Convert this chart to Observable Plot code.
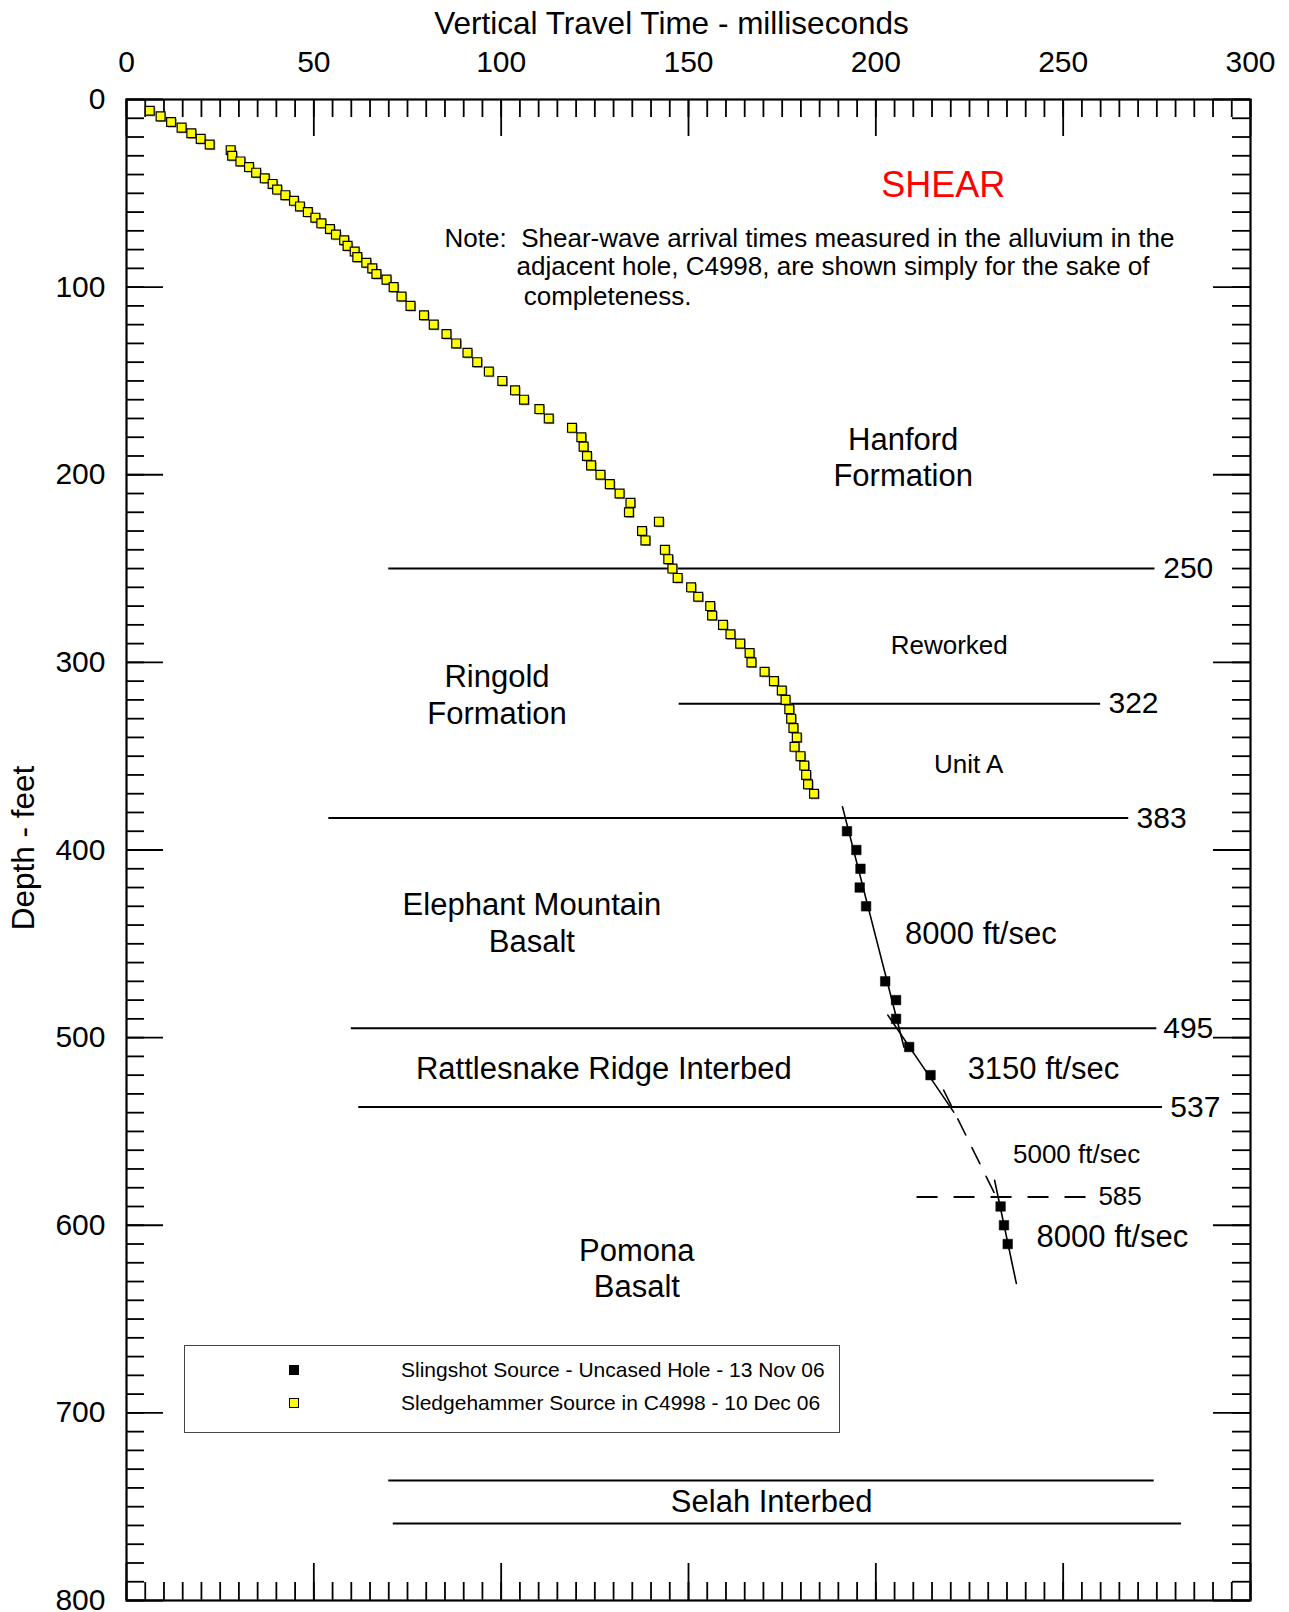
<!DOCTYPE html>
<html>
<head>
<meta charset="utf-8">
<script src="https://cdn.jsdelivr.net/npm/d3@7"></script>
<script src="https://cdn.jsdelivr.net/npm/@observablehq/plot@0.6"></script>
<style>
  body { margin: 0; background: #fff; font-family: "Liberation Sans", Arial, sans-serif; }
  #wrap { position: relative; width: 1289px; height: 1612px; }
  #legend { position: absolute; left: 184px; top: 1345px; width: 656px; height: 88px;
            border: 1px solid #444; background: #fff; box-sizing: border-box; font-size: 21px; color: #000; }
  #legend .row { position: absolute; left: 0; height: 24px; line-height: 24px; }
  #legend .mk { position: absolute; left: 104px; top: 7px; width: 10px; height: 10px; box-sizing: border-box; border: 1px solid #000; }
  #legend .lb { position: absolute; left: 216px; top: 0; white-space: nowrap; }
</style>
</head>
<body>
<div id="wrap"><div id="chart"></div>
  <div id="legend"></div>
</div>
<script>
// ---------------- data ----------------
// Sledgehammer source in C4998 (yellow): depth (ft) and travel time (ms)
const sledgeDepth = [6,9,12,15,18,21,24,27,30,33,36,39,42,45,48,51,54,57,60,63,66,69,72,75,78,81,84,87,90,93,96,
  100,105,110,115,120,125,130,135,140,145,150,155,160,165,170,175,180,185,190,195,200,205,210,215,220,225,230,235,
  240,245,250,255,260,265,270,275,280,285,290,295,300,305,310,315,320,325,330,335,340,345,350,355,360,365,370];
const sledgeTime = [6.2,9.1,11.9,14.7,17.3,19.8,22.2,27.8,28.2,30.4,32.7,34.6,36.9,39.0,40.2,42.4,44.7,46.3,48.4,50.4,52.0,54.3,55.9,58.1,59.0,60.9,61.6,64.0,65.6,66.7,69.4,
  71.3,73.4,75.8,79.4,82.0,85.4,88.0,91.0,93.6,96.7,100.3,103.7,106.1,110.2,112.7,118.9,121.4,122.0,122.9,124.0,126.5,129.0,131.6,134.5,134.1,142.1,137.6,138.5,
  143.7,144.6,145.7,147.1,150.7,152.6,155.8,156.3,159.2,161.2,163.8,166.3,166.8,170.3,172.8,174.9,175.9,176.9,177.4,178.0,178.9,178.3,179.9,180.9,181.4,181.9,183.5];

// Slingshot source, uncased hole (black)
const slingDepth = [390,400,410,420,430,470,480,490,505,520,590,600,610];
const slingTime  = [192.3,194.8,195.9,195.7,197.4,202.5,205.4,205.4,208.9,214.6,233.3,234.2,235.2];

// velocity fit segments (time ms, depth ft)
const fit8000a = {t: [191.1, 207.5], d: [377, 505]};
const fit3150  = {t: [203.2, 220.8], d: [488, 539.7]};
const fit5000  = {t: [218.1, 232.4], d: [528, 586]};
const fit8000b = {t: [231.7, 237.5], d: [576, 631]};

// formation boundaries (depth ft) and their extents in ms
const boundaryDepth = [250, 322, 383, 495, 537];
const boundaryFrom  = [70, 147.5, 54, 60, 62];
const boundaryTo    = [274.5, 260, 267.5, 275, 276.5];
const boundaryLabelAt = [276.7, 262.1, 269.6, 276.7, 278.6];
const dashedDepth = [585], dashedFrom = [211], dashedTo = [256.6], dashedLabelAt = [259.4];
const selahDepth = [736, 759], selahFrom = [70, 71.2], selahTo = [274.3, 281.6];

// tick labels
const xTickLabels = [0, 50, 100, 150, 200, 250, 300];
const yTickLabels = [0, 100, 200, 300, 400, 500, 600, 700, 800];

// annotation texts and their (time, depth) anchors
const bigCenterTexts = ["Hanford", "Formation", "Ringold", "Formation", "Elephant Mountain", "Basalt",
  "Rattlesnake Ridge Interbed", "Pomona", "Basalt", "Selah Interbed"];
const bigCenterT = [207.3, 207.3, 98.9, 98.9, 108.2, 108.2, 127.4, 136.2, 136.2, 172.2];
const bigCenterD = [181.7, 200.9, 307.7, 327.5, 429.4, 449.1, 516.5, 613.5, 632.7, 747.8];
const velTexts = ["8000 ft/sec", "3150 ft/sec", "8000 ft/sec"];
const velT = [207.8, 224.5, 242.9];
const velD = [444.7, 516.5, 606.4];
const midTexts = ["Reworked", "Unit A"];
const midT = [219.6, 224.8];
const midD = [291.3, 354.3];
const smallVelTexts = ["5000 ft/sec"];
const smallVelT = [236.6];
const smallVelD = [562.5];
const noteLines = ["Note:  Shear-wave arrival times measured in the alluvium in the",
  "adjacent hole, C4998, are shown simply for the sake of", " completeness."];
const noteT = [84.9, 104.1, 104.1];
const noteD = [74.3, 89.0, 105.0];
const titleText = ["SHEAR"];
const legendNames = ["Slingshot Source - Uncased Hole - 13 Nov 06", "Sledgehammer Source in C4998 - 10 Dec 06"];
const legendColors = ["#000000", "#ffff00"];

// ---------------- build ----------------
const W = 1289, H = 1612, mL = 126, mR = 39, mT = 99, mB = 12;
const iW = W - mL - mR, iH = H - mT - mB;
const minorX = d3.range(0, 301, 5), majorX = xTickLabels;
const minorY = d3.range(0, 801, 10), majorY = yTickLabels;

const sledge = sledgeDepth.map((d, i) => ({d, t: sledgeTime[i]}));
const sling = slingDepth.map((d, i) => ({d, t: slingTime[i]}));
const seg = (f) => f.t.map((t, i) => ({t, d: f.d[i]}));
const bounds = boundaryDepth.map((d, i) => ({d, from: boundaryFrom[i], to: boundaryTo[i], lab: boundaryLabelAt[i]}));
const dashed = dashedDepth.map((d, i) => ({d, from: dashedFrom[i], to: dashedTo[i], lab: dashedLabelAt[i]}));
const selah = selahDepth.map((d, i) => ({d, from: selahFrom[i], to: selahTo[i]}));
const pts = (txt, T, D) => txt.map((s, i) => ({s, t: T[i], d: D[i]}));
const FONT = "Liberation Sans, Arial, sans-serif";

const chart = Plot.plot({
  width: W, height: H,
  marginLeft: mL, marginRight: mR, marginTop: mT, marginBottom: mB,
  x: {domain: [0, 300], axis: null},
  y: {domain: [0, 800], reverse: true, axis: null},
  style: {fontFamily: FONT, background: "white", color: "black", overflow: "visible"},
  marks: [
    // ticks (inward) on all four sides
    Plot.tickX(minorX, {x: d => d, insetBottom: iH - 18, stroke: "black", strokeWidth: 1.8}),
    Plot.tickX(majorX, {x: d => d, insetBottom: iH - 37, stroke: "black", strokeWidth: 1.8}),
    Plot.tickX(minorX, {x: d => d, insetTop: iH - 18, stroke: "black", strokeWidth: 1.8}),
    Plot.tickX(majorX, {x: d => d, insetTop: iH - 37, stroke: "black", strokeWidth: 1.8}),
    Plot.tickY(minorY, {y: d => d, insetRight: iW - 18, stroke: "black", strokeWidth: 1.8}),
    Plot.tickY(majorY, {y: d => d, insetRight: iW - 37, stroke: "black", strokeWidth: 1.8}),
    Plot.tickY(minorY, {y: d => d, insetLeft: iW - 18, stroke: "black", strokeWidth: 1.8}),
    Plot.tickY(majorY, {y: d => d, insetLeft: iW - 37, stroke: "black", strokeWidth: 1.8}),
    Plot.frame({stroke: "black", strokeWidth: 2.2}),
    // tick labels
    Plot.text(xTickLabels, {x: d => d, text: d => String(d), frameAnchor: "top", lineAnchor: "middle", dy: -37, fontSize: 30}),
    Plot.text(yTickLabels, {y: d => d, text: d => String(d), frameAnchor: "left", textAnchor: "end", dx: -21, fontSize: 30}),
    // axis titles
    Plot.text(["Vertical Travel Time - milliseconds"], {text: d => d, frameAnchor: "top", lineAnchor: "middle", dy: -76, dx: -17, fontSize: 31.5}),
    Plot.text(["Depth - feet"], {text: d => d, frameAnchor: "left", textAnchor: "middle", lineAnchor: "middle", rotate: -90, dx: -103, dy: -2, fontSize: 31.5}),
    // boundaries
    Plot.ruleY(bounds, {y: "d", x1: "from", x2: "to", stroke: "black", strokeWidth: 2}),
    Plot.text(bounds, {x: "lab", y: "d", text: d => String(d.d), textAnchor: "start", fontSize: 30}),
    Plot.ruleY(dashed, {y: "d", x1: "from", x2: "to", stroke: "black", strokeWidth: 2, strokeDasharray: "21,16"}),
    Plot.text(dashed, {x: "lab", y: "d", text: d => String(d.d), textAnchor: "start", fontSize: 26}),
    Plot.ruleY(selah, {y: "d", x1: "from", x2: "to", stroke: "black", strokeWidth: 2}),
    // velocity fits
    Plot.line(seg(fit8000a), {x: "t", y: "d", stroke: "black", strokeWidth: 1.6}),
    Plot.line(seg(fit3150), {x: "t", y: "d", stroke: "black", strokeWidth: 1.6}),
    Plot.line(seg(fit5000), {x: "t", y: "d", stroke: "black", strokeWidth: 1.6, strokeDasharray: "18,14"}),
    Plot.line(seg(fit8000b), {x: "t", y: "d", stroke: "black", strokeWidth: 1.6}),
    // data points
    Plot.dot(sledge, {x: "t", y: "d", symbol: "square", r: 5, fill: "#999", dx: 1.2, dy: 1.2}),
    Plot.dot(sledge, {x: "t", y: "d", symbol: "square", r: 5, fill: "#ffff00", stroke: "black", strokeWidth: 1.2}),
    Plot.dot(sling, {x: "t", y: "d", symbol: "square", r: 5.4, fill: "black", stroke: "black", strokeWidth: 0.5}),
    // annotations
    Plot.text(titleText, {text: d => d, x: () => 218, y: () => 45.8, fill: "#ff0000", fontSize: 36}),
    Plot.text(pts(noteLines, noteT, noteD), {x: "t", y: "d", text: "s", textAnchor: "start", fontSize: 26}),
    Plot.text(pts(bigCenterTexts, bigCenterT, bigCenterD), {x: "t", y: "d", text: "s", fontSize: 31}),
    Plot.text(pts(velTexts, velT, velD), {x: "t", y: "d", text: "s", textAnchor: "start", fontSize: 31}),
    Plot.text(pts(midTexts, midT, midD), {x: "t", y: "d", text: "s", fontSize: 26}),
    Plot.text(pts(smallVelTexts, smallVelT, smallVelD), {x: "t", y: "d", text: "s", textAnchor: "start", fontSize: 26})
  ]
});
document.getElementById("chart").appendChild(chart);

// legend (overlaid inside the plot frame)
const leg = document.getElementById("legend");
legendNames.forEach((name, i) => {
  const row = document.createElement("div");
  row.className = "row";
  row.style.top = (12 + i * 33) + "px";
  row.style.width = "100%";
  const mk = document.createElement("span");
  mk.className = "mk";
  mk.style.background = legendColors[i];
  const lb = document.createElement("span");
  lb.className = "lb";
  lb.textContent = name;
  row.appendChild(mk); row.appendChild(lb);
  leg.appendChild(row);
});
</script>
</body>
</html>
